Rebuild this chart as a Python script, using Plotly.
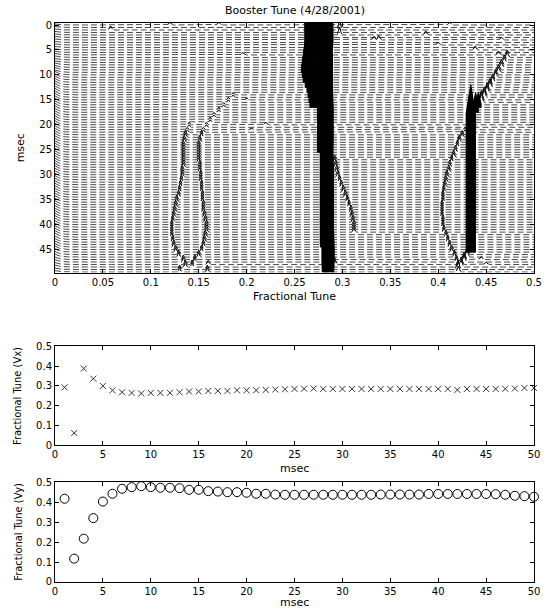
import numpy as np
import plotly.graph_objects as go

# ---------------- data ----------------
msec = list(range(1, 51))
vx_tune = [0.293, 0.062, 0.388, 0.337, 0.300, 0.278, 0.268, 0.265, 0.262, 0.265,
           0.265, 0.265, 0.268, 0.272, 0.272, 0.275, 0.275, 0.275, 0.278, 0.278,
           0.278, 0.280, 0.282, 0.283, 0.285, 0.286, 0.287, 0.285, 0.285, 0.285,
           0.285, 0.285, 0.285, 0.285, 0.285, 0.285, 0.285, 0.285, 0.285, 0.285,
           0.285, 0.280, 0.285, 0.285, 0.285, 0.285, 0.286, 0.287, 0.290, 0.290]
vy_tune = [0.417, 0.117, 0.217, 0.320, 0.403, 0.442, 0.467, 0.475, 0.480, 0.475,
           0.472, 0.472, 0.470, 0.462, 0.462, 0.455, 0.453, 0.450, 0.450, 0.447,
           0.442, 0.442, 0.438, 0.437, 0.437, 0.437, 0.437, 0.437, 0.437, 0.437,
           0.437, 0.437, 0.437, 0.438, 0.438, 0.438, 0.438, 0.438, 0.441, 0.441,
           0.441, 0.441, 0.441, 0.441, 0.441, 0.440, 0.437, 0.432, 0.430, 0.427]

# waterfall rows (msec index 0..49): spectral peak tracks
vx_pk_pos = [0.2755, 0.2755, 0.2755, 0.2755, 0.2755, 0.270, 0.268, 0.266, 0.265, 0.264,
             0.265, 0.266, 0.268, 0.270, 0.271, 0.272, 0.273, 0.282, 0.282, 0.282,
             0.282, 0.282, 0.282, 0.282, 0.282, 0.282, 0.282, 0.282, 0.282, 0.282,
             0.282, 0.282, 0.282, 0.282, 0.282, 0.282, 0.282, 0.282, 0.282, 0.282,
             0.282, 0.282, 0.282, 0.282, 0.282, 0.285, 0.285, 0.285, 0.285, 0.285]
vx_pk_hw = [0.0145, 0.0145, 0.0145, 0.0145, 0.0145, 0.007, 0.007, 0.007, 0.007, 0.007,
            0.007, 0.007, 0.007, 0.007, 0.007, 0.007, 0.007, 0.008, 0.008, 0.008,
            0.008, 0.008, 0.008, 0.008, 0.008, 0.008, 0.005, 0.005, 0.005, 0.005,
            0.005, 0.005, 0.005, 0.005, 0.005, 0.005, 0.005, 0.005, 0.005, 0.005,
            0.005, 0.005, 0.005, 0.005, 0.005, 0.006, 0.006, 0.006, 0.006, 0.006]
vx_pk_amp = [100, 100, 100, 100, 100, 10, 10, 10, 10, 10,
             10, 10, 10, 10, 10, 10, 10, 100, 100, 100,
             100, 100, 100, 100, 100, 100, 100, 100, 100, 100,
             100, 100, 100, 100, 100, 100, 100, 100, 100, 100,
             100, 100, 100, 100, 100, 100, 100, 100, 100, 100]

# Vy: thin spikes (rows 6-17, 46-49) and tall filled band (rows 16-45)
vy_pk_pos = [None, None, None, None, None, None, 0.472, 0.469, 0.466, 0.463,
             0.460, 0.457, 0.454, 0.451, 0.448, 0.445, 0.442, 0.439, 0.434, 0.434,
             0.434, 0.434, 0.434, 0.434, 0.434, 0.434, 0.434, 0.434, 0.434, 0.434,
             0.434, 0.434, 0.434, 0.434, 0.434, 0.434, 0.434, 0.434, 0.434, 0.434,
             0.434, 0.434, 0.434, 0.434, 0.434, 0.434, 0.430, 0.427, 0.424, 0.421]
vy_pk_hw = [0.003, 0.003, 0.003, 0.003, 0.003, 0.003, 0.003, 0.003, 0.003, 0.003,
            0.003, 0.003, 0.003, 0.003, 0.003, 0.003, 0.003, 0.003, 0.005, 0.005,
            0.005, 0.005, 0.005, 0.005, 0.005, 0.005, 0.005, 0.005, 0.005, 0.005,
            0.005, 0.005, 0.005, 0.005, 0.005, 0.005, 0.005, 0.005, 0.005, 0.005,
            0.005, 0.005, 0.005, 0.005, 0.005, 0.005, 0.003, 0.003, 0.003, 0.003]
vy_pk_amp = [0, 0, 0, 0, 0, 0, 1.0, 1.0, 1.1, 1.1,
             1.2, 1.2, 1.3, 1.4, 1.6, 1.8, 2.5, 3.5, 6.0, 6.0,
             6.0, 6.0, 6.0, 6.0, 6.0, 6.0, 6.0, 6.0, 6.0, 6.0,
             6.0, 6.0, 6.0, 6.0, 6.0, 6.0, 6.0, 6.0, 6.0, 6.0,
             6.0, 6.0, 6.0, 6.0, 6.0, 5.0, 1.5, 1.5, 1.5, 1.2]
vy_filled = [False] * 16 + [True] * 30 + [False] * 4

lens1_left = [None] * 20 + [0.140, 0.138, 0.136, 0.135, 0.134, 0.134, 0.134, 0.134, 0.134, 0.133,
                            0.133, 0.132, 0.131, 0.130, 0.129, 0.127, 0.126, 0.125, 0.124, 0.123,
                            0.122, 0.122, 0.122, 0.123, 0.124, 0.126, 0.129, 0.134, 0.136, 0.130]
lens1_right = [None] * 14 + [0.186, 0.181, 0.176, 0.171, 0.166, 0.162, 0.158, 0.155, 0.153, 0.151,
                             0.150, 0.150, 0.150, 0.150, 0.151, 0.151, 0.152, 0.152, 0.153, 0.153,
                             0.154, 0.154, 0.155, 0.155, 0.156, 0.157, 0.158, 0.158, 0.157, 0.156,
                             0.155, 0.153, 0.150, 0.146, 0.143, 0.159]
lens2 = [None] * 27 + [0.292, 0.293, 0.294, 0.295, 0.297, 0.299, 0.301, 0.303, 0.305, 0.307,
                       0.309, 0.310, 0.311, 0.312, 0.312] + [None] * 8
lens3_left = [None] * 21 + [0.428, 0.425, 0.422, 0.420, 0.418, 0.416, 0.414, 0.412, 0.411, 0.409,
                            0.408, 0.407, 0.406, 0.405, 0.405, 0.404, 0.404, 0.404, 0.405, 0.405,
                            0.406, 0.408, 0.410, 0.412, 0.414, 0.417, 0.419, 0.421] + [None]
lens_amp = [0.5] * 22 + [0.9] * 28
dc_amp = [0.2, 0.2, 0.2, 0.2, 0.2, 0.2, 0.3, 0.3, 0.4, 0.5,
          0.7, 0.8, 0.8, 0.8, 0.8, 0.8, 0.8, 0.8, 0.8, 0.8,
          0.8, 0.8, 0.8, 0.8, 0.8, 0.8, 0.8, 0.8, 0.8, 0.8,
          0.8, 0.8, 0.8, 0.8, 0.8, 0.8, 0.8, 0.8, 0.8, 0.8,
          0.8, 0.8, 0.8, 0.7, 0.7, 0.7, 0.6, 0.5, 0.4, 0.3]

bump_msec = [1, 0, 0, 6, 1, 2, 3, 3, 2, 4, 0, 3, 5, 6, 15, 20, 21, 47, 48, 48, 48, 47, 49]
bump_tune = [0.058, 0.120, 0.171, 0.196, 0.297, 0.297, 0.333, 0.338, 0.387, 0.400, 0.412, 0.466,
             0.4385, 0.463, 0.200, 0.220, 0.205, 0.290, 0.292, 0.160, 0.450, 0.445, 0.420]
bump_amp = [0.8, 0.6, 0.6, 0.5, 2.0, 1.6, 0.7, 0.9, 0.8, 0.6, 0.6, 0.6,
            0.8, 0.8, 0.4, 0.5, 0.4, 1.2, 1.2, 0.8, 0.5, 0.6, 1.0]

row_step = 0.5
x_ticks_top = [0, 0.05, 0.1, 0.15, 0.2, 0.25, 0.3, 0.35, 0.4, 0.45, 0.5]
y_ticks_top = [0, 5, 10, 15, 20, 25, 30, 35, 40, 45]

# ---------------- build waterfall ----------------
tune_grid = np.linspace(0, 0.5, 1001)


def spike(p, hw, a):
    return a * np.clip(1 - np.abs(tune_grid - p) / hw, 0, None)


fig = go.Figure()
rows = np.arange(0, 50, row_step)
ox, oy = [], []
for m in rows:
    k = int(m)
    dc = dc_amp[k] * np.exp(-tune_grid / 0.005)
    s = np.zeros_like(tune_grid)
    for tr in (lens1_left, lens1_right, lens2, lens3_left):
        if tr[k] is not None:
            s = s + spike(tr[k], 0.002, lens_amp[k])
    if vy_pk_pos[k] is not None and not vy_filled[k]:
        s = s + spike(vy_pk_pos[k], 0.0025, vy_pk_amp[k])
    for bm, bt, ba in zip(bump_msec, bump_tune, bump_amp):
        if bm == m:
            s = s + spike(bt, 0.0025, ba)
    yrow = m - s - dc
    fig.add_trace(go.Scatter(x=tune_grid, y=yrow, mode="lines",
                             line=dict(color="#333", width=0.9, dash="6px,3px"),
                             hoverinfo="skip", showlegend=False,
                             xaxis="x", yaxis="y"))
    # solid overlay where peaks depart from the baseline
    mask = s > 0.03
    ox += list(np.where(mask, tune_grid, np.nan)) + [None]
    oy += list(np.where(mask, yrow, np.nan)) + [None]

ox = [None if (v is None or np.isnan(v)) else float(v) for v in ox]
oy = [None if (v is None or np.isnan(v)) else float(v) for v in oy]
fig.add_trace(go.Scatter(x=ox, y=oy, mode="lines", connectgaps=False,
                         line=dict(color="#111", width=1),
                         hoverinfo="skip", showlegend=False,
                         xaxis="x", yaxis="y"))

# tall tune peaks (filled)
px, py = [], []
for m in rows:
    k = int(m)
    peaks = [(vx_pk_pos[k], vx_pk_hw[k], vx_pk_amp[k])]
    if vy_filled[k]:
        peaks.append((vy_pk_pos[k], vy_pk_hw[k], vy_pk_amp[k]))
    for pos, hw, amp in peaks:
        if pos is None or amp == 0:
            continue
        px += [pos - hw, pos, pos + hw, pos - hw, None]
        py += [m, m - amp, m, m, None]
fig.add_trace(go.Scatter(x=px, y=py, mode="lines", fill="toself",
                         fillcolor="black", line=dict(color="black", width=1),
                         hoverinfo="skip", showlegend=False,
                         xaxis="x", yaxis="y"))

# tune vs time
fig.add_trace(go.Scatter(x=msec, y=vx_tune, mode="markers",
                         marker=dict(symbol="x-thin-open", size=6, color="#333",
                                     line=dict(color="#333", width=1)),
                         cliponaxis=False, showlegend=False,
                         xaxis="x2", yaxis="y2"))
fig.add_trace(go.Scatter(x=msec, y=vy_tune, mode="markers",
                         marker=dict(symbol="circle-open", size=9, color="black",
                                     line=dict(color="black", width=1)),
                         cliponaxis=False, showlegend=False,
                         xaxis="x3", yaxis="y3"))

FONT = "DejaVu Sans, Liberation Sans, Arial, sans-serif"
NARROW = "Liberation Sans Narrow, DejaVu Sans Condensed, Arial Narrow, sans-serif"
ax_common = dict(showline=True, linecolor="black", linewidth=1, mirror="ticks",
                 ticks="inside", ticklen=4, tickcolor="black", showgrid=False,
                 zeroline=False, tickfont=dict(family=FONT, size=10, color="black"))

H = 560.0


def dom(top_px, bot_px):
    return [1 - (bot_px - 23) / H, 1 - (top_px - 23) / H]


fig.update_layout(
    width=554, height=609,
    margin=dict(l=55, r=12, t=23, b=26),
    paper_bgcolor="white", plot_bgcolor="white",
    xaxis=dict(ax_common, range=[0, 0.5], tickvals=x_ticks_top, anchor="y",
               domain=[0, 1]),
    yaxis=dict(ax_common, range=[49.6, -0.4], tickvals=y_ticks_top, anchor="x",
               domain=dom(23, 273)),
    xaxis2=dict(ax_common, range=[0, 50], dtick=5, tick0=0, anchor="y2"),
    yaxis2=dict(ax_common, range=[0, 0.5], dtick=0.1, tick0=0, anchor="x2",
                domain=dom(347, 446)),
    xaxis3=dict(ax_common, range=[0, 50], dtick=5, tick0=0, anchor="y3"),
    yaxis3=dict(ax_common, range=[0, 0.5], dtick=0.1, tick0=0, anchor="x3",
                domain=dom(483, 583)),
)


def ypaper(px_y):
    return 1 - (px_y - 23) / H


ann = [
    dict(text="Booster Tune (4/28/2001)", x=0.5, y=ypaper(10), size=11, font=FONT, angle=0),
    dict(text="Fractional Tune", x=0.5, y=ypaper(297), size=11, font=FONT, angle=0),
    dict(text="msec", x=-35 / 487, y=ypaper(148), size=11, font=FONT, angle=-90),
    dict(text="msec", x=0.5, y=ypaper(469), size=11, font=FONT, angle=0),
    dict(text="Fractional Tune (Vx)", x=-38 / 487, y=ypaper(397), size=11, font=NARROW, angle=-90),
    dict(text="msec", x=0.5, y=ypaper(604), size=11, font=FONT, angle=0),
    dict(text="Fractional Tune (Vy)", x=-38 / 487, y=ypaper(533), size=11, font=NARROW, angle=-90),
]
for a in ann:
    fig.add_annotation(text=a["text"], x=a["x"], y=a["y"], xref="paper", yref="paper",
                       showarrow=False, xanchor="center", yanchor="middle",
                       textangle=a["angle"],
                       font=dict(family=a["font"], size=a["size"], color="black"))

fig.write_html("out.html")
